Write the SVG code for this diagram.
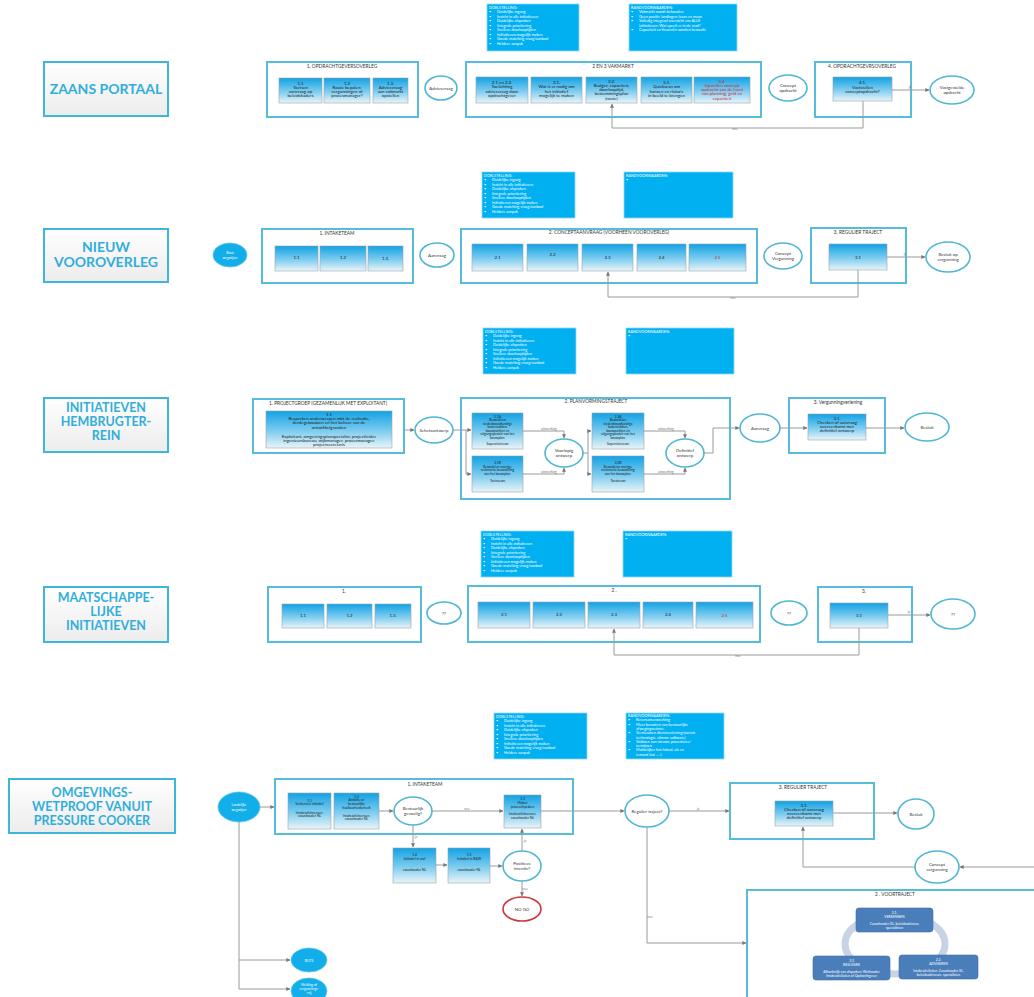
<svg xmlns="http://www.w3.org/2000/svg" width="1034" height="997" viewBox="0 0 1034 997">
<defs>
<linearGradient id="gs" x1="0" y1="0" x2="0" y2="1"><stop offset="0" stop-color="#12a2e4"/><stop offset="0.55" stop-color="#7fcdf0"/><stop offset="1" stop-color="#eaf4f8"/></linearGradient>
<linearGradient id="gt" x1="0" y1="0" x2="0" y2="1"><stop offset="0" stop-color="#ffffff"/><stop offset="1" stop-color="#ececec"/></linearGradient>
<marker id="arr" viewBox="0 0 6 6" refX="5.5" refY="3" markerWidth="4" markerHeight="4" orient="auto"><path d="M0,0 L6,3 L0,6 z" fill="#777"/></marker>
<style>
.big{fill:#fff;stroke:#55bdd9;stroke-width:2}
.sub{fill:url(#gs);stroke:#9aa3a8;stroke-width:0.6}
.el{fill:#fff;stroke:#4fb6d4;stroke-width:1.6}
.fel{fill:#12aee9;stroke:#5cc4ee;stroke-width:0.8}
.info{fill:#00b0f0;stroke:#8fd8f4;stroke-width:0.8}
.tb{fill:url(#gt);stroke:#3fb5dc;stroke-width:2}
.cv{fill:#4a7ebb;stroke:#3d6ea8;stroke-width:0.6}
text{font-family:Lato,"Open Sans","Liberation Sans",sans-serif}
.tt{font-size:14px;font-weight:bold;fill:#31aedb;text-anchor:middle}
.tm{font-size:12.5px;font-weight:bold;fill:#31aedb;text-anchor:middle}
.bt{font-size:4.8px;fill:#333;text-anchor:middle}
.s{font-size:4.4px;fill:#1a1a1a;text-anchor:middle}
.ss{font-size:3.3px;fill:#1a1a1a;text-anchor:middle}
.red{fill:#d0202a}
.et{font-size:4.4px;fill:#333;text-anchor:middle}
.it{font-size:3.8px;fill:#fff}
.cw{font-size:3.4px;fill:#fff;text-anchor:middle}
.lb{font-size:3.4px;fill:#777;text-anchor:middle}
.c{stroke:#9a9a9a;stroke-width:1;fill:none}
.ca{stroke:#9a9a9a;stroke-width:1;fill:none;marker-end:url(#arr)}
</style>
</defs>
<rect x="0" y="0" width="1034" height="997" fill="#fff"/>

<!-- ROW TITLES -->
<g id="title-zaans"><rect class="tb" x="44" y="62" width="124" height="54"/><text class="tt" x="106" y="94">ZAANS PORTAAL</text></g>
<g id="title-nieuw"><rect class="tb" x="44" y="229" width="124" height="53"/><text class="tt" x="106" y="252">NIEUW</text><text class="tt" x="106" y="267">VOOROVERLEG</text></g>
<g id="title-hembrug"><rect class="tb" x="44" y="398" width="124" height="54"/><text class="tm" x="106" y="412">INITIATIEVEN</text><text class="tm" x="106" y="426">HEMBRUGTER-</text><text class="tm" x="106" y="440">REIN</text></g>
<g id="title-maatsch"><rect class="tb" x="44" y="587" width="124" height="55"/><text class="tm" x="106" y="602">MAATSCHAPPE-</text><text class="tm" x="106" y="616">LIJKE</text><text class="tm" x="106" y="630">INITIATIEVEN</text></g>
<g id="title-omgevings"><rect class="tb" x="9" y="779" width="166" height="54"/><text class="tm" x="92" y="797">OMGEVINGS-</text><text class="tm" x="92" y="811">WETPROOF VANUIT</text><text class="tm" x="92" y="825">PRESSURE COOKER</text></g>

<!-- ROW 1 -->
<g id="r1-doel"><rect class="info" x="487" y="4" width="92" height="47"/>
<text class="it"><tspan x="489" y="8.5">DOELSTELLING:</tspan><tspan x="489" y="13">•</tspan><tspan x="497" y="13">Duidelijke ingang</tspan><tspan x="489" y="17.5">•</tspan><tspan x="497" y="17.5">Inzicht in alle initiatieven</tspan><tspan x="489" y="22">•</tspan><tspan x="497" y="22">Duidelijke afspraken</tspan><tspan x="489" y="26.5">•</tspan><tspan x="497" y="26.5">Integrale prioritering</tspan><tspan x="489" y="31">•</tspan><tspan x="497" y="31">Snellere doorlooptijden</tspan><tspan x="489" y="35.5">•</tspan><tspan x="497" y="35.5">Initiatieven mogelijk maken</tspan><tspan x="489" y="40">•</tspan><tspan x="497" y="40">Goede matching vraag/aanbod</tspan><tspan x="489" y="44.5">•</tspan><tspan x="497" y="44.5">Heldere aanpak</tspan></text></g>
<g id="r1-rand"><rect class="info" x="629" y="4" width="108" height="47"/>
<text class="it"><tspan x="631" y="8.5">RANDVOORWAARDEN:</tspan><tspan x="631" y="13">•</tspan><tspan x="639" y="13">Vakmarkt wordt behouden</tspan><tspan x="631" y="17.5">•</tspan><tspan x="639" y="17.5">Geen positie landingen: kaan en maan</tspan><tspan x="631" y="22">•</tspan><tspan x="639" y="22">Volledig integraal overzicht van ALLE</tspan><tspan x="639" y="26.5">initiatieven: Wat speelt er in de stad?</tspan><tspan x="631" y="31">•</tspan><tspan x="639" y="31">Capaciteit en financiën worden bewaakt</tspan></text></g>

<g id="r1-box1"><rect class="big" x="267" y="62" width="151" height="55"/><text class="bt" x="342" y="67.5">1. OPDRACHTGEVERSOVERLEG</text></g>
<g id="r1-1-1"><rect class="sub" x="279" y="78" width="43" height="25"/><text class="s"><tspan x="300.5" y="84.5">1.1</tspan><tspan x="300.5" y="88.8">Toetsen</tspan><tspan x="300.5" y="93.1">aanvraag op</tspan><tspan x="300.5" y="97.4">beleidskaders</tspan></text></g>
<g id="r1-1-2"><rect class="sub" x="324" y="78" width="46" height="25"/><text class="s"><tspan x="347" y="84.5">1.2</tspan><tspan x="347" y="88.8">Route bepalen:</tspan><tspan x="347" y="93.1">vergunningen of</tspan><tspan x="347" y="97.4">procesmanager?</tspan></text></g>
<g id="r1-1-3"><rect class="sub" x="373" y="78" width="35" height="25"/><text class="s"><tspan x="390.5" y="84.5">1.3.</tspan><tspan x="390.5" y="88.8">Adviesvraag</tspan><tspan x="390.5" y="93.1">aan vakmarkt</tspan><tspan x="390.5" y="97.4">opstellen</tspan></text></g>
<g id="r1-adviesvraag"><ellipse class="el" cx="441" cy="88" rx="16" ry="12"/><text class="et" x="441" y="89.5">Adviesvraag</text></g>
<g id="r1-box2"><rect class="big" x="466" y="62" width="295" height="55"/><text class="bt" x="613" y="67.5">2 EN 3 VAKMARKT</text></g>
<g id="r1-2-1"><rect class="sub" x="476" y="77" width="52" height="26"/><text class="s"><tspan x="502" y="84">2.1 en 2.2.</tspan><tspan x="502" y="88.3">Toelichting</tspan><tspan x="502" y="92.6">adviesvraag door</tspan><tspan x="502" y="96.9">opdrachtgever</tspan></text></g>
<g id="r1-3-1"><rect class="sub" x="531" y="77" width="51" height="26"/><text class="s"><tspan x="556.5" y="84">3.1.</tspan><tspan x="556.5" y="88.3">Wat is er nodig om</tspan><tspan x="556.5" y="92.6">het initiatief</tspan><tspan x="556.5" y="96.9">mogelijk te maken</tspan></text></g>
<g id="r1-3-2"><rect class="sub" x="586" y="77" width="51" height="26"/><text class="s"><tspan x="611.5" y="82.5">3.2.</tspan><tspan x="611.5" y="86.8">Budget, capaciteit,</tspan><tspan x="611.5" y="91.1">doorlooptijd,</tspan><tspan x="611.5" y="95.4">bestemmingsplan</tspan><tspan x="611.5" y="99.7">(route)</tspan></text></g>
<g id="r1-3-3"><rect class="sub" x="641" y="77" width="51" height="26"/><text class="s"><tspan x="666.5" y="84">3.3.</tspan><tspan x="666.5" y="88.3">Quickscan om</tspan><tspan x="666.5" y="92.6">kansen en risico's</tspan><tspan x="666.5" y="96.9">in beeld te brengen</tspan></text></g>
<g id="r1-3-4"><rect class="sub" x="694" y="77" width="56" height="26"/><text class="s red"><tspan x="722" y="82.5">3.4.</tspan><tspan x="722" y="86.8">Opstellen concept</tspan><tspan x="722" y="91.1">opdracht aan de hand</tspan><tspan x="722" y="95.4">van planning, geld en</tspan><tspan x="722" y="99.7">capaciteit</tspan></text></g>
<g id="r1-concept"><ellipse class="el" cx="788" cy="88" rx="19" ry="13"/><text class="et"><tspan x="788" y="87">Concept</tspan><tspan x="788" y="92">opdracht</tspan></text></g>
<g id="r1-box4"><rect class="big" x="815" y="62" width="96" height="55"/><text class="bt" x="862" y="67.5">4. OPDRACHTGEVRSOVERLEG</text></g>
<g id="r1-4-1"><rect class="sub" x="833" y="77" width="59" height="24"/><text class="s"><tspan x="862.5" y="84">4.1.</tspan><tspan x="862.5" y="88.7">Vaststellen</tspan><tspan x="862.5" y="93.4">conceptopdracht?</tspan></text></g>
<g id="r1-vastgesteld"><ellipse class="el" cx="952" cy="90" rx="22" ry="14"/><text class="et"><tspan x="952" y="89">Vastgestelde</tspan><tspan x="952" y="94">opdracht</tspan></text></g>

<!-- ROW 2 -->
<g id="r2-doel"><rect class="info" x="482" y="172" width="93" height="46"/>
<text class="it"><tspan x="484" y="176.5">DOELSTELLING:</tspan><tspan x="484" y="181">•</tspan><tspan x="492" y="181">Duidelijke ingang</tspan><tspan x="484" y="185.5">•</tspan><tspan x="492" y="185.5">Inzicht in alle initiatieven</tspan><tspan x="484" y="190">•</tspan><tspan x="492" y="190">Duidelijke afspraken</tspan><tspan x="484" y="194.5">•</tspan><tspan x="492" y="194.5">Integrale prioritering</tspan><tspan x="484" y="199">•</tspan><tspan x="492" y="199">Snellere doorlooptijden</tspan><tspan x="484" y="203.5">•</tspan><tspan x="492" y="203.5">Initiatieven mogelijk maken</tspan><tspan x="484" y="208">•</tspan><tspan x="492" y="208">Goede matching vraag/aanbod</tspan><tspan x="484" y="212.5">•</tspan><tspan x="492" y="212.5">Heldere aanpak</tspan></text></g>
<g id="r2-rand"><rect class="info" x="624" y="172" width="109" height="46"/><text class="it"><tspan x="626" y="176.5">RANDVOORWAARDEN:</tspan><tspan x="626" y="181">•</tspan></text></g>
<g id="r2-basis"><ellipse class="fel" cx="230" cy="255" rx="17" ry="12"/><text class="cw"><tspan x="230" y="254">Basis</tspan><tspan x="230" y="258.5">wegwijzer</tspan></text></g>
<g id="r2-box1"><rect class="big" x="262" y="229" width="151" height="54"/><text class="bt" x="337" y="234.5">1. INTAKETEAM</text></g>
<g id="r2-1-1"><rect class="sub" x="275" y="246" width="43" height="25"/><text class="s" x="296.5" y="259">1.1</text></g>
<g id="r2-1-2"><rect class="sub" x="320" y="246" width="46" height="25"/><text class="s" x="343" y="259">1.2</text></g>
<g id="r2-1-3"><rect class="sub" x="368" y="246" width="35" height="25"/><text class="s" x="385.5" y="260">1.3.</text></g>
<g id="r2-aanvraag"><ellipse class="el" cx="437" cy="255" rx="17" ry="12"/><text class="et" x="437" y="256.5">Aanvraag</text></g>
<g id="r2-box2"><rect class="big" x="461" y="229" width="296" height="54"/><text class="bt" x="609" y="233.5">2. CONCEPTAANVRAAG (VOORHEEN VOOROVERLEG)</text></g>
<g id="r2-2-1"><rect class="sub" x="472" y="244" width="51" height="27"/><text class="s" x="497.5" y="258.5">2.1</text></g>
<g id="r2-2-2"><rect class="sub" x="527" y="244" width="51" height="27"/><text class="s" x="552.5" y="256">2.2</text></g>
<g id="r2-2-3"><rect class="sub" x="582" y="244" width="51" height="27"/><text class="s" x="607.5" y="258.5">2.3</text></g>
<g id="r2-2-4"><rect class="sub" x="637" y="244" width="49" height="27"/><text class="s" x="661.5" y="258.5">2.4</text></g>
<g id="r2-2-5"><rect class="sub" x="689" y="244" width="57" height="27"/><text class="s red" x="717.5" y="258.5">2.5</text></g>
<g id="r2-concept"><ellipse class="el" cx="783" cy="256" rx="19" ry="13"/><text class="et"><tspan x="783" y="255">Concept</tspan><tspan x="783" y="260">Vergunning</tspan></text></g>
<g id="r2-box3"><rect class="big" x="811" y="228" width="95" height="55"/><text class="bt" x="858" y="233.5">3. REGULIER TRAJECT</text></g>
<g id="r2-3-1"><rect class="sub" x="829" y="244" width="58" height="26"/><text class="s" x="858" y="258.5">3.1</text></g>
<g id="r2-besluit"><ellipse class="el" cx="948" cy="257" rx="22" ry="15"/><text class="et"><tspan x="948" y="256">Besluit op</tspan><tspan x="948" y="261">vergunning</tspan></text></g>

<!-- ROW 3 -->
<g id="r3-doel"><rect class="info" x="483" y="328" width="93" height="46"/>
<text class="it"><tspan x="485" y="332.5">DOELSTELLING:</tspan><tspan x="485" y="337">•</tspan><tspan x="493" y="337">Duidelijke ingang</tspan><tspan x="485" y="341.5">•</tspan><tspan x="493" y="341.5">Inzicht in alle initiatieven</tspan><tspan x="485" y="346">•</tspan><tspan x="493" y="346">Duidelijke afspraken</tspan><tspan x="485" y="350.5">•</tspan><tspan x="493" y="350.5">Integrale prioritering</tspan><tspan x="485" y="355">•</tspan><tspan x="493" y="355">Snellere doorlooptijden</tspan><tspan x="485" y="359.5">•</tspan><tspan x="493" y="359.5">Initiatieven mogelijk maken</tspan><tspan x="485" y="364">•</tspan><tspan x="493" y="364">Goede matching vraag/aanbod</tspan><tspan x="485" y="368.5">•</tspan><tspan x="493" y="368.5">Heldere aanpak</tspan></text></g>
<g id="r3-rand"><rect class="info" x="626" y="328" width="108" height="46"/><text class="it"><tspan x="628" y="332.5">RANDVOORWAARDEN:</tspan><tspan x="628" y="337">•</tspan></text></g>
<g id="r3-box1"><rect class="big" x="253" y="399" width="151" height="54"/><text class="bt" x="328" y="405">1. PROJECTGROEP (GEZAMENLIJK MET EXPLOITANT)</text></g>
<g id="r3-1-1"><rect class="sub" x="266" y="411" width="126" height="37"/><text class="s"><tspan x="329" y="415.5">1.1</tspan><tspan x="329" y="419.9">Bespreken onderwerpen mbt de realisatie,</tspan><tspan x="329" y="424.3">derdegebouwen en het beheer van de</tspan><tspan x="329" y="428.7">ontwikkelgronden</tspan><tspan x="329" y="437.5">Exploitant, omgevingsplanspecialist, projectleider</tspan><tspan x="329" y="441.9">ingenieursbureau, wijkmanager, procesmanager,</tspan><tspan x="329" y="446.3">projectsecretaris</tspan></text></g>
<g id="r3-schets"><ellipse class="el" cx="434" cy="430" rx="19" ry="13"/><text class="et" x="434" y="431.5">Schetsontwerp</text></g>
<g id="r3-box2"><rect class="big" x="461" y="398" width="269" height="101"/><text class="bt" x="596" y="403">2. PLANVORMINGSTRAJECT</text></g>
<g id="r3-2-1a"><rect class="sub" x="472" y="413" width="51" height="36"/><text class="ss"><tspan x="497.5" y="417.5">2.1A</tspan><tspan x="497.5" y="421">Beoordelen</tspan><tspan x="497.5" y="424.5">stedenbouwkundige</tspan><tspan x="497.5" y="428">kaderstukken,</tspan><tspan x="497.5" y="431.5">bouwpartijen en</tspan><tspan x="497.5" y="435">uitgangspunten van het</tspan><tspan x="497.5" y="438.5">bouwplan.</tspan><tspan x="497.5" y="445">Supervisieteam</tspan></text></g>
<g id="r3-2-1b"><rect class="sub" x="472" y="456" width="51" height="36"/><text class="ss"><tspan x="497.5" y="464">2.1B</tspan><tspan x="497.5" y="467.5">Beoordelen overige,</tspan><tspan x="497.5" y="471">technische beoordeling</tspan><tspan x="497.5" y="474.5">van het bouwplan.</tspan><tspan x="497.5" y="482">Toetsteam</tspan></text></g>
<g id="r3-voorlopig"><ellipse class="el" cx="564" cy="453" rx="19" ry="14"/><text class="et"><tspan x="564" y="452">Voorlopig</tspan><tspan x="564" y="457">ontwerp</tspan></text></g>
<g id="r3-2-2a"><rect class="sub" x="592" y="413" width="52" height="36"/><text class="ss"><tspan x="618" y="417.5">2.2A</tspan><tspan x="618" y="421">Beoordelen</tspan><tspan x="618" y="424.5">stedenbouwkundige</tspan><tspan x="618" y="428">kaderstukken,</tspan><tspan x="618" y="431.5">bouwpartijen en</tspan><tspan x="618" y="435">uitgangspunten van het</tspan><tspan x="618" y="438.5">bouwplan.</tspan><tspan x="618" y="445">Supervisieteam</tspan></text></g>
<g id="r3-2-2b"><rect class="sub" x="592" y="456" width="52" height="36"/><text class="ss"><tspan x="618" y="464">2.2B</tspan><tspan x="618" y="467.5">Beoordelen overige,</tspan><tspan x="618" y="471">technische beoordeling</tspan><tspan x="618" y="474.5">van het bouwplan.</tspan><tspan x="618" y="482">Toetsteam</tspan></text></g>
<g id="r3-definitief"><ellipse class="el" cx="685" cy="453" rx="19" ry="14"/><text class="et"><tspan x="685" y="452">Definitief</tspan><tspan x="685" y="457">ontwerp</tspan></text></g>
<g id="r3-aanvraag"><ellipse class="el" cx="760" cy="428" rx="20" ry="14"/><text class="et" x="760" y="429.5">Aanvraag</text></g>
<g id="r3-box3"><rect class="big" x="789" y="398" width="96" height="55"/><text class="bt" x="838" y="404">3. Vergunningverlening</text></g>
<g id="r3-3-1"><rect class="sub" x="808" y="414" width="58" height="26"/><text class="s"><tspan x="837" y="419.5">3.1.</tspan><tspan x="837" y="423.8">Checken of aanvraag</tspan><tspan x="837" y="428.1">overeenkomt met</tspan><tspan x="837" y="432.4">definitief ontwerp</tspan></text></g>
<g id="r3-besluit"><ellipse class="el" cx="927" cy="427" rx="22" ry="14"/><text class="et" x="927" y="428.5">Besluit</text></g>

<!-- ROW 4 -->
<g id="r4-doel"><rect class="info" x="481" y="531" width="93" height="46"/>
<text class="it"><tspan x="483" y="535.5">DOELSTELLING:</tspan><tspan x="483" y="540">•</tspan><tspan x="491" y="540">Duidelijke ingang</tspan><tspan x="483" y="544.5">•</tspan><tspan x="491" y="544.5">Inzicht in alle initiatieven</tspan><tspan x="483" y="549">•</tspan><tspan x="491" y="549">Duidelijke afspraken</tspan><tspan x="483" y="553.5">•</tspan><tspan x="491" y="553.5">Integrale prioritering</tspan><tspan x="483" y="558">•</tspan><tspan x="491" y="558">Snellere doorlooptijden</tspan><tspan x="483" y="562.5">•</tspan><tspan x="491" y="562.5">Initiatieven mogelijk maken</tspan><tspan x="483" y="567">•</tspan><tspan x="491" y="567">Goede matching vraag/aanbod</tspan><tspan x="483" y="571.5">•</tspan><tspan x="491" y="571.5">Heldere aanpak</tspan></text></g>
<g id="r4-rand"><rect class="info" x="623" y="531" width="109" height="46"/><text class="it"><tspan x="625" y="535.5">RANDVOORWAARDEN:</tspan><tspan x="625" y="540">•</tspan></text></g>
<g id="r4-box1"><rect class="big" x="268" y="587" width="153" height="55"/><text class="bt" x="344" y="593">1.</text></g>
<g id="r4-1-1"><rect class="sub" x="282" y="604" width="42" height="24"/><text class="s" x="303" y="616.5">1.1</text></g>
<g id="r4-1-2"><rect class="sub" x="327" y="604" width="45" height="24"/><text class="s" x="349.5" y="616.5">1.2</text></g>
<g id="r4-1-3"><rect class="sub" x="375" y="604" width="36" height="24"/><text class="s" x="393" y="617">1.3.</text></g>
<g id="r4-q1"><ellipse class="el" cx="444" cy="613" rx="17" ry="11"/><text class="et" x="444" y="614.5">??</text></g>
<g id="r4-box2"><rect class="big" x="468" y="586" width="292" height="56"/><text class="bt" x="614" y="592">2 .</text></g>
<g id="r4-2-1"><rect class="sub" x="478" y="602" width="52" height="26"/><text class="s" x="504" y="616">2.1</text></g>
<g id="r4-2-2"><rect class="sub" x="533" y="602" width="52" height="26"/><text class="s" x="559" y="616">2.2</text></g>
<g id="r4-2-3"><rect class="sub" x="588" y="602" width="52" height="26"/><text class="s" x="614" y="616">2.3</text></g>
<g id="r4-2-4"><rect class="sub" x="643" y="602" width="50" height="26"/><text class="s" x="668" y="616">2.4</text></g>
<g id="r4-2-5"><rect class="sub" x="696" y="602" width="57" height="26"/><text class="s red" x="724.5" y="616.5">2.5</text></g>
<g id="r4-q2"><ellipse class="el" cx="789" cy="613" rx="18" ry="12"/><text class="et" x="789" y="614.5">??</text></g>
<g id="r4-box3"><rect class="big" x="818" y="587" width="94" height="55"/><text class="bt" x="864" y="593">3.</text></g>
<g id="r4-3-1"><rect class="sub" x="830" y="603" width="58" height="25"/><text class="s" x="859" y="617">3.1</text></g>
<g id="r4-q3"><ellipse class="el" cx="953" cy="614" rx="22" ry="15"/><text class="et" x="953" y="615.5">??</text></g>

<!-- ROW 5 -->
<g id="r5-doel"><rect class="info" x="494" y="713" width="93" height="46"/>
<text class="it"><tspan x="496" y="717.5">DOELSTELLING:</tspan><tspan x="496" y="722">•</tspan><tspan x="504" y="722">Duidelijke ingang</tspan><tspan x="496" y="726.5">•</tspan><tspan x="504" y="726.5">Inzicht in alle initiatieven</tspan><tspan x="496" y="731">•</tspan><tspan x="504" y="731">Duidelijke afspraken</tspan><tspan x="496" y="735.5">•</tspan><tspan x="504" y="735.5">Integrale prioritering</tspan><tspan x="496" y="740">•</tspan><tspan x="504" y="740">Snellere doorlooptijden</tspan><tspan x="496" y="744.5">•</tspan><tspan x="504" y="744.5">Initiatieven mogelijk maken</tspan><tspan x="496" y="749">•</tspan><tspan x="504" y="749">Goede matching vraag/aanbod</tspan><tspan x="496" y="753.5">•</tspan><tspan x="504" y="753.5">Heldere aanpak</tspan></text></g>
<g id="r5-rand"><rect class="info" x="626" y="713" width="98" height="46"/>
<text class="it"><tspan x="628" y="717">RANDVOORWAARDEN:</tspan><tspan x="628" y="721.3">•</tspan><tspan x="636" y="721.3">Ketensamenwerking</tspan><tspan x="628" y="725.6">•</tspan><tspan x="636" y="725.6">Meer benutten van bestuurlijke</tspan><tspan x="636" y="729.9">afwegingsruimte.</tspan><tspan x="628" y="734.2">•</tspan><tspan x="636" y="734.2">Vernieuwen dienstverlening (sociale</tspan><tspan x="636" y="738.5">technologie, slimme software)</tspan><tspan x="628" y="742.8">•</tspan><tspan x="636" y="742.8">Voldoen aan nieuwe procedures/</tspan><tspan x="636" y="747.1">termijnen</tspan><tspan x="628" y="751.4">•</tspan><tspan x="636" y="751.4">Makkelijker kan lokaal, als en</tspan><tspan x="636" y="755.7">iemand last ... :)</tspan></text></g>
<g id="r5-landelijk"><ellipse class="fel" cx="239" cy="807" rx="21" ry="15"/><text class="cw"><tspan x="239" y="806">Landelijke</tspan><tspan x="239" y="810.5">wegwijzer</tspan></text></g>
<g id="r5-box1"><rect class="big" x="275" y="779" width="298" height="55"/><text class="bt" x="425" y="786">1. INTAKETEAM</text></g>
<g id="r5-1-1"><rect class="sub" x="288" y="793" width="43" height="36"/><text class="ss"><tspan x="309.5" y="801.5">1.1</tspan><tspan x="309.5" y="805.3">Verkennen initiatief</tspan><tspan x="309.5" y="813.5">Intaketafelmensen,</tspan><tspan x="309.5" y="817.3">casushouder NL</tspan></text></g>
<g id="r5-1-2"><rect class="sub" x="334" y="793" width="45" height="36"/><text class="ss"><tspan x="356.5" y="797.5">1.2</tspan><tspan x="356.5" y="801.3">Ambitie en</tspan><tspan x="356.5" y="805.1">bestuurlijke</tspan><tspan x="356.5" y="808.9">haalbaarheidscheck</tspan><tspan x="356.5" y="816.5">Intaketafelmensen,</tspan><tspan x="356.5" y="820.3">casushouder NL</tspan></text></g>
<g id="r5-bestuurlijk"><ellipse class="el" cx="413" cy="811" rx="19" ry="14"/><text class="et"><tspan x="413" y="810">Bestuurlijk</tspan><tspan x="413" y="815">gevoelig?</tspan></text></g>
<g id="r5-1-3"><rect class="sub" x="504" y="795" width="37" height="33"/><text class="ss"><tspan x="522.5" y="800">1.3</tspan><tspan x="522.5" y="803.8">Maken</tspan><tspan x="522.5" y="807.6">procesafspraken</tspan><tspan x="522.5" y="815.2">Intaketafelmensen,</tspan><tspan x="522.5" y="819">casushouder NL</tspan></text></g>
<g id="r5-1-4"><rect class="sub" x="393" y="848" width="43" height="35"/><text class="ss"><tspan x="414.5" y="856">1.4</tspan><tspan x="414.5" y="859.8">Initiatief in staf</tspan><tspan x="414.5" y="871">casushouder NL</tspan></text></g>
<g id="r5-1-5"><rect class="sub" x="448" y="848" width="42" height="35"/><text class="ss"><tspan x="469" y="856">1.5</tspan><tspan x="469" y="859.8">Initiatief in B&amp;W</tspan><tspan x="469" y="871">casushouder NL</tspan></text></g>
<g id="r5-positief"><ellipse class="el" cx="522" cy="866" rx="19" ry="15"/><text class="et"><tspan x="522" y="865">Positieve</tspan><tspan x="522" y="870">intentie?</tspan></text></g>
<g id="r5-nogo"><ellipse cx="522" cy="909" rx="19" ry="12" fill="#fff" stroke="#d0363c" stroke-width="1.6"/><text class="et" x="522" y="910.5">NO GO</text></g>
<g id="r5-regulier"><ellipse class="el" cx="647" cy="811" rx="22" ry="16"/><text class="et" x="647" y="812.5">Regulier traject?</text></g>
<g id="r5-box3"><rect class="big" x="730" y="783" width="144" height="56"/><text class="bt" x="803" y="789">3. REGULIER TRAJECT</text></g>
<g id="r5-3-1"><rect class="sub" x="775" y="801" width="58" height="25"/><text class="s"><tspan x="804" y="806.5">3.1.</tspan><tspan x="804" y="810.6">Checken of aanvraag</tspan><tspan x="804" y="814.7">overeenkomt met</tspan><tspan x="804" y="818.8">definitief ontwerp</tspan></text></g>
<g id="r5-besluit"><ellipse class="el" cx="916" cy="814" rx="18" ry="15"/><text class="et" x="916" y="815.5">Besluit</text></g>
<g id="r5-concept"><ellipse class="el" cx="937" cy="867" rx="22" ry="16"/><text class="et"><tspan x="937" y="866">Concept</tspan><tspan x="937" y="871">vergunning</tspan></text></g>
<g id="r5-box2"><rect class="big" x="747" y="890" width="300" height="120"/><text class="bt" x="895" y="896">2 . VOORTRAJECT</text>
<ellipse cx="895" cy="944" rx="50" ry="30" fill="none" stroke="#c9d3e5" stroke-width="7"/>
<path d="M850,930 L858,922 L860,933 z" fill="#c9d3e5"/></g>
<g id="r5-2-1"><rect class="cv" x="856" y="908" width="77" height="24" rx="3"/><text class="cw"><tspan x="894.5" y="913.5">2.1.</tspan><tspan x="894.5" y="917.5">VERKENNEN</tspan><tspan x="894.5" y="925">Casushouder XL, beleidsadviseur,</tspan><tspan x="894.5" y="928.7">specialisten</tspan></text></g>
<g id="r5-2-2"><rect class="cv" x="899" y="955" width="79" height="24" rx="3"/><text class="cw"><tspan x="938.5" y="960.5">2.2.</tspan><tspan x="938.5" y="964.5">ADVISEREN</tspan><tspan x="938.5" y="972">Intaketafelleden, Casushouder XL,</tspan><tspan x="938.5" y="975.7">beleidsadviseurs, specialisten</tspan></text></g>
<g id="r5-2-3"><rect class="cv" x="813" y="956" width="77" height="24" rx="3"/><text class="cw"><tspan x="851.5" y="961.5">2.3</tspan><tspan x="851.5" y="965.5">BESLISSEN</tspan><tspan x="851.5" y="973">Afhankelijk van afspraken: Wethouder</tspan><tspan x="851.5" y="976.7">Intaketafelleden of Opdrachtgever</tspan></text></g>
<g id="r5-blits"><ellipse class="fel" cx="309" cy="960" rx="18" ry="12"/><text class="cw" x="309" y="961.5">BLITS</text></g>
<g id="r5-melding"><ellipse class="fel" cx="309" cy="991" rx="18" ry="13"/><text class="cw"><tspan x="309" y="985.5">Melding of</tspan><tspan x="309" y="989.5">vergunnings-</tspan><tspan x="309" y="993.5">vrij</tspan></text></g>

<!-- CONNECTORS -->
<g id="connectors">
<path class="ca" d="M892,90 H929"/>
<path class="ca" d="M863,101 V128 H612 V104"/>
<path class="ca" d="M887,257 H925"/>
<path class="ca" d="M858,270 V297 H608 V272"/>
<path class="ca" d="M404,430 H414"/>
<path class="ca" d="M453,430 H471"/>
<path class="ca" d="M466,430 V474 H471"/>
<path class="ca" d="M523,431 H564 V438"/>
<path class="ca" d="M523,474 H564 V468"/>
<path class="ca" d="M583,453 H588 V431 H591"/>
<path class="ca" d="M588,453 V474 H591"/>
<path class="ca" d="M644,431 H685 V438"/>
<path class="ca" d="M644,474 H685 V468"/>
<path class="ca" d="M704,453 H713 V428 H739"/>
<path class="ca" d="M780,428 H807"/>
<path class="ca" d="M866,428 H904"/>
<path class="ca" d="M888,615 H930"/>
<path class="ca" d="M859,628 V655 H614 V629"/>
<path class="ca" d="M260,807 H274"/>
<path class="ca" d="M379,811 H393"/>
<path class="ca" d="M432,811 H503"/>
<path class="ca" d="M413,825 V847"/>
<path class="ca" d="M436,865 H447"/>
<path class="ca" d="M490,866 H502"/>
<path class="ca" d="M522,851 V829"/>
<path class="ca" d="M522,881 V896"/>
<path class="ca" d="M541,811 H624"/>
<path class="ca" d="M669,811 H729"/>
<path class="ca" d="M833,813 H897"/>
<path class="ca" d="M1034,867 H960"/>
<path class="ca" d="M915,867 H803 V827"/>
<path class="ca" d="M647,827 V943 H746"/>
<path class="c" d="M239,822 V989"/>
<path class="ca" d="M239,960 H290"/>
<path class="ca" d="M239,989 H290"/>
<text class="lb" x="910" y="88">ja</text>
<text class="lb" x="735" y="130">nee</text>
<text class="lb" x="905" y="255">ja</text>
<text class="lb" x="733" y="299">nee</text>
<text class="lb" x="549" y="429.5">uitwerking</text>
<text class="lb" x="549" y="472.5">uitwerking</text>
<text class="lb" x="666" y="429.5">uitwerking</text>
<text class="lb" x="666" y="472.5">uitwerking</text>
<text class="lb" x="909" y="613">ja</text>
<text class="lb" x="738" y="657">nee</text>
<text class="lb" x="467" y="809.5">nee</text>
<text class="lb" x="416" y="838">ja</text>
<text class="lb" x="525" y="842">ja</text>
<text class="lb" x="525" y="890">nee</text>
<text class="lb" x="698" y="809.5">ja</text>
<text class="lb" x="650" y="918">nee</text>
</g>
</svg>
